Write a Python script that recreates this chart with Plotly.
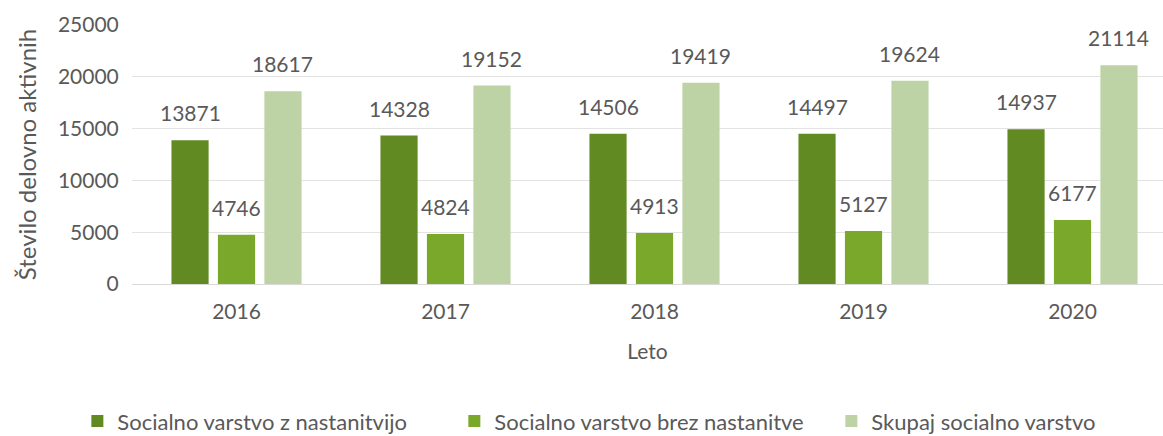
import plotly.graph_objects as go

# Podatki
leta = ['2016', '2017', '2018', '2019', '2020']
z_nastanitvijo = [13871, 14328, 14506, 14497, 14937]
brez_nastanitve = [4746, 4824, 4913, 5127, 6177]
skupaj = [18617, 19152, 19419, 19624, 21114]

imena = ['Socialno varstvo z nastanitvijo',
         'Socialno varstvo brez nastanitve',
         'Skupaj socialno varstvo']
barve = ['#618a23', '#79a82a', '#bdd3a5']

FONT = 'Lato'
SIVA = '#595959'

fig = go.Figure()

serije = [z_nastanitvijo, brez_nastanitve, skupaj]
for ime, vrednosti, barva in zip(imena, serije, barve):
    fig.add_trace(go.Bar(
        x=leta, y=vrednosti, name=ime,
        marker=dict(color=barva, line=dict(width=0)),
        hovertemplate='%{x}: %{y}<extra>' + ime + '</extra>'
    ))

# oznake vrednosti nad stolpci (zamik glede na položaj v skupini)
bargap = 0.333
bargroupgap = 0.2
x_max = 4.433
plot_w = 1163 - 132
kat_w = plot_w / (x_max + 0.5)
slot = kat_w * (1 - bargap) / 3
for i, vrednosti in enumerate(serije):
    for j, v in enumerate(vrednosti):
        fig.add_annotation(
            x=j, y=v, text=str(v), showarrow=False,
            xanchor='center', yanchor='bottom',
            xshift=(i - 1) * slot, yshift=13,
            font=dict(family=FONT, size=21, color=SIVA)
        )

fig.update_layout(
    barmode='group', bargap=bargap, bargroupgap=bargroupgap,
    width=1163, height=436,
    margin=dict(l=132, r=0, t=25, b=152, autoexpand=False),
    plot_bgcolor='white', paper_bgcolor='white',
    font=dict(family=FONT, size=20, color=SIVA),
    showlegend=True,
    legend=dict(
        orientation='h', x=-0.053, xanchor='left',
        y=-0.53, yanchor='middle',
        entrywidth=332, font=dict(size=22, color=SIVA),
        traceorder='normal'
    ),
    xaxis=dict(
        type='category',
        range=[-0.5, x_max], showgrid=False, zeroline=False,
        showline=False, ticks='outside', ticklen=9, tickcolor='white',
        title=dict(text='Leto', standoff=22, font=dict(size=21)),
        tickfont=dict(size=21), automargin=False
    ),
    yaxis=dict(
        range=[0, 25000], dtick=5000, tickformat='d', showgrid=True,
        gridcolor='#e3e3e3', gridwidth=1,
        zeroline=True, zerolinecolor='#d9d9d9', zerolinewidth=1,
        ticks='outside', ticklen=8, tickcolor='white',
        title=dict(text='Število delovno aktivnih', standoff=14,
                   font=dict(size=24)),
        tickfont=dict(size=21), automargin=False
    )
)

# brez privzetega roba strani, da se graf ujema z oknom
fig.write_html('out.html',
               config={'displayModeBar': False},
               post_script="document.body.style.margin='0';"
                           "document.body.style.overflow='hidden';")
